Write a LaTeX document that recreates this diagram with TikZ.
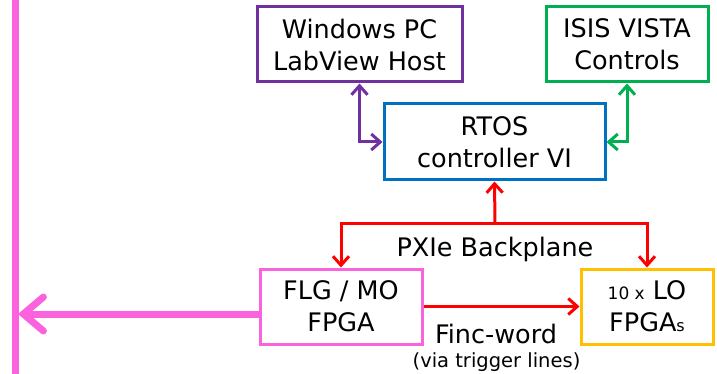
\documentclass[tikz,border=0pt]{standalone}
\usepackage{fontspec}
\setmainfont{DejaVu Sans}
\usetikzlibrary{arrows.meta}
\definecolor{pinkc}{RGB}{250,98,222}
\definecolor{purplec}{RGB}{112,48,160}
\definecolor{greenc}{RGB}{0,176,80}
\definecolor{bluec}{RGB}{0,112,192}
\definecolor{redc}{RGB}{255,0,0}
\definecolor{orangec}{RGB}{255,192,0}
\begin{document}
\begin{tikzpicture}[x=1pt,y=-1pt,
  box/.style={draw, line width=3pt, fill=white, align=center, inner sep=0pt,
    font=\fontsize{25.5}{32}\selectfont},
  conn/.style={line width=3pt, {Straight Barb[length=9pt,width=16pt]}-{Straight Barb[length=9pt,width=16pt]}},
  oneway/.style={line width=3pt, -{Straight Barb[length=9pt,width=16pt]}},
  lbl/.style={font=\fontsize{25.5}{28}\selectfont, anchor=base, inner sep=0pt},
  small/.style={font=\fontsize{19.5}{22}\selectfont, anchor=base, inner sep=0pt}]
\useasboundingbox (0,0) rectangle (717,374);
% nodes
\node[box, draw=purplec, minimum width=205pt, minimum height=75pt] (win) at (359.5,44.5) {Windows PC\\LabView Host};
\node[box, draw=greenc, minimum width=162pt, minimum height=75pt] (isis) at (627,44.5) {ISIS VISTA\\Controls};
\node[box, draw=bluec, minimum width=221pt, minimum height=76pt] (rtos) at (494.5,142) {RTOS\\controller VI};
\node[box, draw=pinkc, minimum width=162pt, minimum height=75pt] (flg) at (341,306.5) {FLG / MO\\FPGA};
\node[box, draw=orangec, minimum width=132pt, minimum height=75pt] (lo) at (647,306.5) {{\fontsize{17}{18}\selectfont 10 x} LO\\FPGA{\fontsize{16}{18}\selectfont s}};
\node[lbl] (pxie) at (495,256) {PXIe Backplane};
\node[lbl] (finc) at (496,343) {Finc-word};
\node[small] (via) at (496.5,367) {(via trigger lines)};
% coordinates
\coordinate (bp) at (495,223);
\coordinate (bartop) at (15,0);
\coordinate (barbot) at (15,374);
\coordinate (pinkend) at (18,314);
% connectors
\draw[purplec, conn] (win.south) |- (rtos.west);
\draw[greenc, conn] (isis.south) |- (rtos.east);
\draw[redc, oneway] (bp) -- (rtos.south);
\draw[redc, oneway] (bp) -| (flg.north);
\draw[redc, oneway] (bp) -| (lo.north);
\draw[redc, oneway] (flg.east) -- (lo.west);
\draw[pinkc, line width=7pt] (bartop) -- (barbot);
\draw[pinkc, line width=7pt, -{Straight Barb[length=20pt,width=34pt,line cap=round]}] (flg.west |- pinkend) -- (pinkend);
\end{tikzpicture}
\end{document}
